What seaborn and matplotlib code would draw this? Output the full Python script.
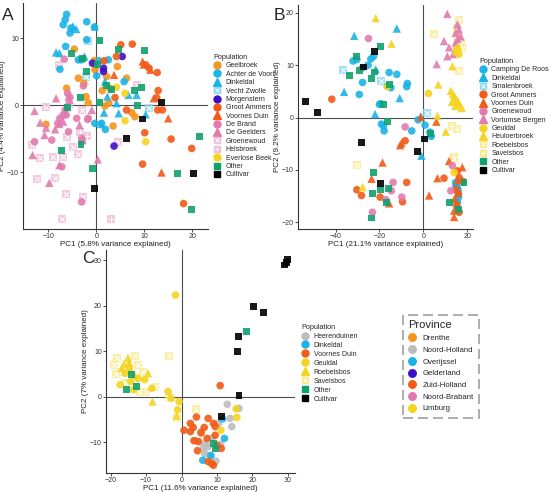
import matplotlib
matplotlib.use("Agg")
import matplotlib.pyplot as plt
from matplotlib.lines import Line2D
from matplotlib.colors import to_rgb
import pandas as pd
import seaborn as sns

CYAN = '#1BB3E6'
ORANGE = '#F7941D'
PURPLE = '#3C10C8'
RED = '#F25A17'
PINK = '#E17BAE'
YELLOW = '#F4D41F'
GREEN = '#10A26C'
BLACK = '#000000'
GRAY = '#BDBDBD'

# ---- panel A (PC1 5.8%, PC2 4.4%)
a_pops = ['Geelbroek', 'Achter de Voort', 'Dinkeldal', 'Vecht Zwolle', 'Morgenstern',
          'Groot Ammers', 'Voornes Duin', 'De Brand', 'De Geelders', 'Groenewoud',
          'Helsbroek', 'Everlose Beek', 'Other', 'Cultivar']
a_colors = [ORANGE, CYAN, CYAN, CYAN, PURPLE, RED, RED, PINK, PINK, PINK, PINK, YELLOW, GREEN, BLACK]
a_shapes = ['o', 'o', '^', 'sx', 'o', 'o', '^', 'o', '^', 'sx', 'sp', 'o', 's', 's']
a_points = {
    'Geelbroek': [(-4.6, 8.4), (-0.4, 6.7), (-0.3, 5.3), (-3.75, 4.05), (-6.2, 2.55), (-2.6, 3.3),
                  (-2.15, 1.3), (-1.7, 0.4), (1.25, 2.2), (2.15, 4.3), (2.85, 2.55), (4.4, 5.8),
                  (6.3, 4.05), (1.8, -0.1), (2.6, 0.3), (3.5, -3.1), (7.4, -1.1), (8.05, -1.7),
                  (-10.5, -2.85)],
    'Achter de Voort': [(-6.2, 13.6), (-6.5, 12.8), (-6.9, 12.05), (-5.3, 11.55), (-5.5, 10.8),
                        (-2.0, 12.5), (-0.4, 11.7), (-6.4, 8.8), (-7.6, 5.4), (-3.75, 6.8),
                        (-3.1, 6.8), (-2.0, 9.8), (0.55, 6.65), (2.5, 6.8), (0.07, 4.4),
                        (5.8, 3.55), (1.1, -2.7), (1.9, -3.6), (-0.3, -2.7)],
    'Dinkeldal': [(-4.9, 11.8), (-4.2, 11.4), (-0.3, 11.8), (-8.4, 7.9), (-7.7, 7.8), (-2.5, 7.3),
                  (1.8, 3.55), (2.3, 1.3), (4.2, 0.3), (6.7, 1.55), (8.4, 1.55), (1.6, -1.1),
                  (4.65, -1.2), (10.3, -1.35), (1.0, -2.8)],
    'Vecht Zwolle': [(-1.7, 9.55), (-2.15, 4.2), (11.0, -0.45)],
    'Morgenstern': [(-0.8, 6.3), (1.5, 5.55), (1.5, 5.05), (5.4, 7.3), (3.7, -6.1)],
    'Groot Ammers': [(5.1, 9.05), (7.5, 9.15), (1.6, 6.65), (4.2, 7.3), (10.3, 6.05), (11.0, 5.55),
                     (12.7, 4.9), (12.9, 2.2), (12.6, 1.15), (3.9, 1.15), (6.3, -0.7), (12.8, -0.7),
                     (13.8, -0.7), (10.1, -4.1), (15.6, -5.05), (19.9, -6.45), (9.65, -8.8),
                     (18.2, -14.7)],
    'Voornes Duin': [(3.7, 4.55), (9.65, 6.55), (9.9, 6.1), (11.3, 5.3), (12.0, 1.05), (15.0, -1.95),
                     (13.6, -10.05)],
    'De Brand': [(-6.7, 6.9), (-2.7, 2.9), (-6.0, 1.8), (-5.5, 1.2), (-6.5, -0.7), (-6.9, -1.45),
                 (-5.8, -3.95), (-4.1, -1.95), (-1.7, -1.95), (-1.8, -2.1), (-3.05, -4.95),
                 (-3.0, -5.4), (-9.3, -5.2), (-12.9, -5.45), (-7.2, -9.2), (-3.05, -14.45),
                 (-7.6, -1.95), (-6.3, -1.45), (-8.05, -2.7)],
    'De Geelders': [(-8.4, 1.05), (-5.8, 1.3), (-5.6, 0.8), (-12.9, -0.85), (-11.7, -2.6),
                    (-10.5, -3.35), (-10.8, -4.45), (-8.6, -3.6), (-7.7, -2.8), (-6.9, -2.45),
                    (-3.5, -2.95), (-0.95, -0.7), (-13.3, -7.45), (-9.8, -11.6), (-7.7, -8.95),
                    (0.3, -8.1), (-2.85, -5.2)],
    'Groenewoud': [(-7.8, 6.05), (-10.6, -0.3), (-5.8, 0.05), (-13.5, -5.95), (-11.7, -7.95),
                   (-9.0, -7.7), (-4.8, -6.2), (-3.9, -7.3), (-6.9, -7.7), (-12.4, -11.05),
                   (-8.6, -10.8), (-6.4, -13.2), (-2.7, -13.7), (-7.2, -17.05), (8.4, 3.05),
                   (4.6, -5.45), (-6.2, -4.7), (-3.0, -0.7)],
    'Helsbroek': [(-3.4, -3.95), (-1.9, -4.6), (3.0, -16.95)],
    'Everlose Beek': [(6.0, 1.8), (4.2, 2.7), (6.0, -2.3), (10.3, -5.45)],
    'Other': [(0.75, 9.65), (-5.15, 7.8), (-2.85, 7.05), (-2.0, 5.05), (0.2, 6.05), (4.6, 8.4),
              (10.1, 8.15), (2.15, 2.9), (3.2, 2.4), (8.05, 2.2), (9.45, 2.65), (-3.4, 1.2),
              (0.6, 0.4), (8.6, -0.1), (-6.0, -0.3), (-3.2, -5.8), (-7.2, -6.8), (-0.75, -9.45),
              (16.9, -10.2), (21.5, -4.6), (19.9, -15.6)],
    'Cultivar': [(13.5, 0.45), (9.6, -2.05), (6.3, -4.95), (20.2, -10.2), (-0.4, -12.45)],
}

# ---- panel B (PC1 21.1%, PC2 9.2%)
b_pops = ['Camping De Roos', 'Dinkeldal', 'Smalenbroek', 'Groot Ammers', 'Voornes Duin',
          'Groenewoud', 'Vortumse Bergen', 'Geuldal', 'Heuloerbroek', 'Roebelsbos',
          'Savelsbos', 'Other', 'Cultivar']
b_colors = [CYAN, CYAN, CYAN, RED, RED, PINK, PINK, YELLOW, YELLOW, YELLOW, YELLOW, GREEN, BLACK]
b_shapes = ['o', '^', 'sx', 'o', '^', 'o', '^', 'o', '^', 'sx', 'sp', 's', 's']
b_points = {
    'Camping De Roos': [(-32.0, 10.8), (-30.3, 11.1), (-27.7, 9.5), (-23.9, 11.2), (-22.7, 11.7),
                        (-25.2, 10.0), (-27.7, 6.7), (-29.2, 4.4), (-15.6, 8.6), (-12.1, 8.25),
                        (-7.3, 6.5), (-7.6, 5.9), (-16.4, 6.0), (-14.8, 5.7), (-19.4, 2.65),
                        (-20.0, 2.5), (-19.1, -1.25), (-18.2, -1.6), (-17.9, -2.55), (-5.3, -2.55),
                        (-2.4, -0.45), (0.75, -1.45), (3.6, -3.6), (3.0, -2.8),
                        (14.7, -12.4), (15.3, -13.2), (15.8, -14.0), (15.5, -16.2), (16.0, -15.2)],
    'Dinkeldal': [(-31.5, 15.6), (-12.1, 17.0), (-21.7, 9.2), (-36.1, 4.9), (-10.8, 3.7),
                  (-22.0, 0.65), (-1.2, 0.2), (-0.9, -7.3), (14.7, -12.4), (15.6, -12.9),
                  (15.0, -13.6)],
    'Smalenbroek': [(-36.4, 9.0), (-19.4, 7.0), (1.8, 0.95)],
    'Groot Ammers': [(-41.7, 3.5), (-8.3, -4.45), (-7.6, -12.4), (-30.3, -13.8), (-28.2, -14.9),
                     (-19.7, -15.2), (-9.5, -16.1), (9.4, -11.6), (15.5, -10.2), (16.3, -11.5),
                     (14.8, -13.8), (16.0, -14.6), (15.2, -16.8), (16.3, -18.1), (18.0, -12.2)],
    'Voornes Duin': [(-10.0, -4.9), (-10.6, -5.3), (-18.6, -8.6), (-23.6, -11.7), (-15.6, -16.4),
                     (2.6, -14.9), (-1.2, 0.1), (5.9, -0.8), (6.4, -11.6), (11.7, -8.3),
                     (17.7, -9.5), (14.0, -17.8), (14.0, -19.0), (15.5, -12.0), (14.2, -15.5)],
    'Groenewoud': [(-25.0, 15.1), (-8.3, -1.8), (-13.8, -12.4), (-14.6, -14.0), (-9.8, -15.2),
                   (-17.1, -15.7), (-23.2, -18.1), (13.2, -9.2), (12.5, -14.0)],
    'Vortumse Bergen': [(10.9, 19.8), (15.5, 17.8), (16.2, 16.8), (14.7, 16.2), (17.0, 15.5),
                        (9.4, 14.6), (11.7, 13.4), (14.7, 14.3), (15.6, 15.0), (10.9, 11.7),
                        (6.1, 10.2), (13.5, 12.1)],
    'Geuldal': [(-16.4, 5.9), (2.3, 4.6), (16.2, 12.1), (14.0, -10.5), (15.0, 13.0)],
    'Heuloerbroek': [(-21.7, 19.0), (-14.5, 14.1), (6.8, 6.3), (6.4, 0.3), (10.2, -2.7),
                     (13.2, 9.8), (14.7, 12.7), (12.5, 5.1), (13.5, 4.5), (14.2, 4.0), (15.0, 3.5),
                     (15.8, 3.0), (16.5, 2.5), (17.5, 1.8), (14.5, 2.2), (13.0, 3.0),
                     (-27.7, -13.3), (15.8, 13.6)],
    'Roebelsbos': [(-30.3, -9.0), (16.2, 18.7), (15.5, 17.1), (17.7, 13.3), (16.2, 8.9),
                   (13.9, -8.0)],
    'Savelsbos': [(4.9, 15.9), (13.2, -1.6), (15.2, -2.1), (13.9, -7.6), (15.5, 15.6), (17.2, 14.2)],
    'Other': [(-30.3, 11.7), (-19.7, 13.5), (-33.8, 8.1), (-29.2, 8.9), (-23.5, 7.5), (-22.4, 8.7),
              (-15.6, 6.3), (-18.2, 2.5), (-16.4, -0.8), (3.3, -3.05), (-22.9, -10.5),
              (-23.2, -14.5), (-19.7, -13.8), (-15.9, -13.65), (-16.8, -16.3), (-23.6, -19.2),
              (11.7, -16.2), (18.5, -12.4), (15.8, -17.5)],
    'Cultivar': [(-22.4, 12.7), (-27.3, 9.65), (-53.8, 3.0), (-48.2, 0.95), (-28.2, -4.75),
                 (0.3, -4.1), (-2.7, -6.5), (-19.4, -12.6)],
}

# ---- panel C (PC1 11.6%, PC2 7%)
c_pops = ['Heerenduinen', 'Dinkeldal', 'Voornes Duin', 'Geuldal', 'Roebelsbos', 'Savelsbos',
          'Other', 'Cultivar']
c_colors = [GRAY, CYAN, RED, YELLOW, YELLOW, YELLOW, GREEN, BLACK]
c_shapes = ['o', 'o', 'o', 'o', '^', 'sx', 's', 's']
c_points = {
    'Heerenduinen': [(12.9, -1.7), (16.2, -2.6), (13.7, -4.8), (14.2, -6.6), (10.4, -5.9),
                     (5.5, -7.7), (6.8, -10.3), (7.5, -11.0), (6.5, -12.5), (8.0, -12.9),
                     (9.7, -14.2), (11.0, -10.5), (8.5, -9.2), (6.2, -11.2), (4.0, -9.7)],
    'Dinkeldal': [(12.1, -9.2), (11.6, -4.9), (6.0, -14.0), (8.3, -13.0)],
    'Voornes Duin': [(10.9, 2.4), (0.7, -7.4), (2.5, -7.7), (3.3, -6.8), (2.5, -5.9), (4.2, -4.5),
                     (7.5, -4.8), (6.4, -6.8), (9.0, -5.9), (9.5, -6.6), (4.8, -9.9), (3.5, -9.7),
                     (7.2, -9.2), (9.5, -8.5), (4.5, -11.9), (7.5, -14.3), (8.5, -14.7),
                     (9.0, -15.1), (11.2, -11.4), (10.0, -10.7), (5.5, -8.0)],
    'Geuldal': [(-1.7, 22.3), (-17.3, 2.6), (-14.3, 3.3), (-12.3, 4.0), (-10.4, 3.7), (-8.4, 1.8),
                (-3.8, 1.1), (-2.9, -0.4), (-0.7, -1.1), (-1.1, -2.9), (15.4, -2.7), (15.6, -4.6),
                (11.1, -7.4), (-15.8, 5.1), (-14.8, 6.5), (-13.5, 1.5)],
    'Roebelsbos': [(-15.1, 8.5), (-14.8, 7.4), (-16.8, 6.3), (-14.3, 5.9), (-13.3, 4.8),
                   (-9.4, 5.1), (-8.2, -1.1), (-1.4, -4.2), (-16.2, 7.2)],
    'Savelsbos': [(-18.2, 8.5), (-19.0, 7.0), (-17.2, 5.5), (-12.3, 7.0), (-10.9, 5.5),
                  (-11.8, 1.1), (-9.9, 1.1), (-7.4, 2.2), (-3.6, 0.0), (-1.4, -4.8), (-3.6, 9.0),
                  (4.2, -2.7), (-18.5, 5.0), (-13.0, 9.0), (-16.0, 3.0)],
    'Other': [(18.4, 14.2), (-14.1, 4.8), (-12.8, 2.2), (-15.5, 1.6), (9.0, -10.4), (9.7, -11.5)],
    'Cultivar': [(29.5, 29.4), (30.0, 30.1), (29.0, 28.9), (20.3, 19.85), (23.0, 18.4),
                 (16.1, 13.2), (15.9, 9.9), (16.2, 0.2), (11.4, -4.4)],
}

prov_names = ['Drenthe', 'Noord-Holland', 'Overijssel', 'Gelderland', 'Zuid-Holland',
              'Noord-Brabant', 'Limburg']
prov_colors = [ORANGE, GRAY, CYAN, PURPLE, RED, PINK, YELLOW]

sns.set_theme(style='ticks')
plt.rcParams['font.family'] = ['Liberation Sans', 'DejaVu Sans']

SIZES = {'o': 30, '^': 36, 's': 25}


def pale(c):
    r, g, b = to_rgb(c)
    return (0.5 * r + 0.5, 0.5 * g + 0.5, 0.5 * b + 0.5)


def draw_panel(ax, pops, colors, shapes, points):
    rows = []
    for p, sh in zip(pops, shapes):
        for x, y in points[p]:
            rows.append({'pop': p, 'shape': sh, 'x': x, 'y': y})
    df = pd.DataFrame(rows)
    ax.axhline(0, color='#4d4d4d', lw=0.8, zorder=0)
    ax.axvline(0, color='#4d4d4d', lw=0.8, zorder=0)
    # patterned squares first
    pat = df[df['shape'].isin(['sx', 'sp'])]
    for p, c, sh in zip(pops, colors, shapes):
        if sh not in ('sx', 'sp'):
            continue
        d = pat[pat['pop'] == p]
        sns.scatterplot(data=d, x='x', y='y', color=pale(c), marker='s', s=26,
                        linewidth=0, alpha=0.8, ax=ax, legend=False)
        ax.scatter(d['x'], d['y'], marker='x' if sh == 'sx' else '+', s=14,
                   c='white', linewidths=0.7, zorder=3)
    solid = df[~df['shape'].isin(['sx', 'sp'])]
    pal = {p: c for p, c in zip(pops, colors)}
    mk = {p: sh for p, sh in zip(pops, shapes) if sh not in ('sx', 'sp')}
    sns.scatterplot(data=solid, x='x', y='y', hue='pop', style='pop', markers=mk,
                    palette=pal, size='shape', sizes=SIZES, linewidth=0, alpha=0.9,
                    ax=ax, legend=False, zorder=4)
    sns.despine(ax=ax)
    for s in ('left', 'bottom'):
        ax.spines[s].set_linewidth(0.8)
        ax.spines[s].set_color('#333333')
    ax.tick_params(labelsize=5.0, length=2, width=0.6, pad=1, colors='#333333')
    handles = []
    for c, sh in zip(colors, shapes):
        if sh in ('sx', 'sp'):
            h1 = Line2D([], [], marker='s', color=pale(c), markersize=4.8, linestyle='none')
            h2 = Line2D([], [], marker='x' if sh == 'sx' else '+', color='white',
                        markersize=3.3, markeredgewidth=0.7, linestyle='none')
            handles.append((h1, h2))
        else:
            ms = 5.0 if sh == 'o' else (5.4 if sh == '^' else 4.6)
            handles.append(Line2D([], [], marker=sh, color=c, markersize=ms, linestyle='none'))
    return handles


fig = plt.figure(figsize=(5.5, 4.92), dpi=100)
axA = fig.add_axes([23 / 550, 1 - 229 / 492, 185 / 550, 226 / 492])
axB = fig.add_axes([298 / 550, 1 - 229 / 492, 175 / 550, 224 / 492])
axC = fig.add_axes([106 / 550, 1 - 473 / 492, 189 / 550, 223 / 492])

legend_kw = dict(frameon=False, fontsize=5.0, title_fontsize=5.2, loc='upper left',
                 borderpad=0, handletextpad=0.6, labelspacing=0.2, handlelength=1.2,
                 borderaxespad=0, alignment='left')
lab_kw = dict(fontsize=5.8, labelpad=0.5, color='#222222')

hA = draw_panel(axA, a_pops, a_colors, a_shapes, a_points)
axA.set_xlim(-15.3, 23.3)
axA.set_ylim(-18.5, 15.3)
axA.set_xticks([-10, 0, 10, 20])
axA.set_yticks([-10, 0, 10])
axA.set_xlabel('PC1 (5.8% variance explained)', **lab_kw)
axA.set_ylabel('PC2 (4.4% variance explained)', **lab_kw)
axA.yaxis.set_label_coords(-17 / 185, 0.5)
fig.legend(hA, a_pops, title='Population', bbox_to_anchor=(213 / 550, 1 - 54 / 492), **legend_kw)

hB = draw_panel(axB, b_pops, b_colors, b_shapes, b_points)
axB.set_xlim(-57.1, 22.6)
axB.set_ylim(-21.3, 21.5)
axB.set_xticks([-40, -20, 0, 20])
axB.set_yticks([-20, -10, 0, 10, 20])
axB.set_xlabel('PC1 (21.1% variance explained)', **lab_kw)
axB.set_ylabel('PC2 (9.2% variance explained)', **lab_kw)
fig.legend(hB, b_pops, title='Population', bbox_to_anchor=(479 / 550, 1 - 58 / 492), **legend_kw)

hC = draw_panel(axC, c_pops, c_colors, c_shapes, c_points)
axC.set_xlim(-21.3, 32)
axC.set_ylim(-16.8, 32.2)
axC.set_xticks([-20, -10, 0, 10, 20, 30])
axC.set_yticks([-10, 0, 10, 20, 30])
axC.set_xlabel('PC1 (11.6% variance explained)', **lab_kw)
axC.set_ylabel('PC2 (7% variance explained)', **lab_kw)
fig.legend(hC, c_pops, title='Population', bbox_to_anchor=(301 / 550, 1 - 324 / 492),
           **{**legend_kw, 'labelspacing': 0.28})

hP = [Line2D([], [], marker='o', color=c, markersize=5.4, linestyle='none') for c in prov_colors]
lp = fig.legend(hP, prov_names, title='Province', loc='upper left',
                bbox_to_anchor=(403 / 550, 1 - 315 / 492), fontsize=5.6, title_fontsize=8.0,
                frameon=True, borderpad=0.7, labelspacing=0.55, handletextpad=0.9,
                handlelength=0.9, alignment='left', fancybox=False, borderaxespad=0)
frame = lp.get_frame()
frame.set_edgecolor('#888888')
frame.set_linestyle((0, (6, 3)))
frame.set_linewidth(1.2)
frame.set_facecolor('white')

fig.text(2 / 550, 1 - 20 / 492, 'A', fontsize=12.5)
fig.text(274 / 550, 1 - 20 / 492, 'B', fontsize=12.5)
fig.text(82 / 550, 1 - 263 / 492, 'C', fontsize=12.5)

fig.savefig('out.png', dpi=100)
